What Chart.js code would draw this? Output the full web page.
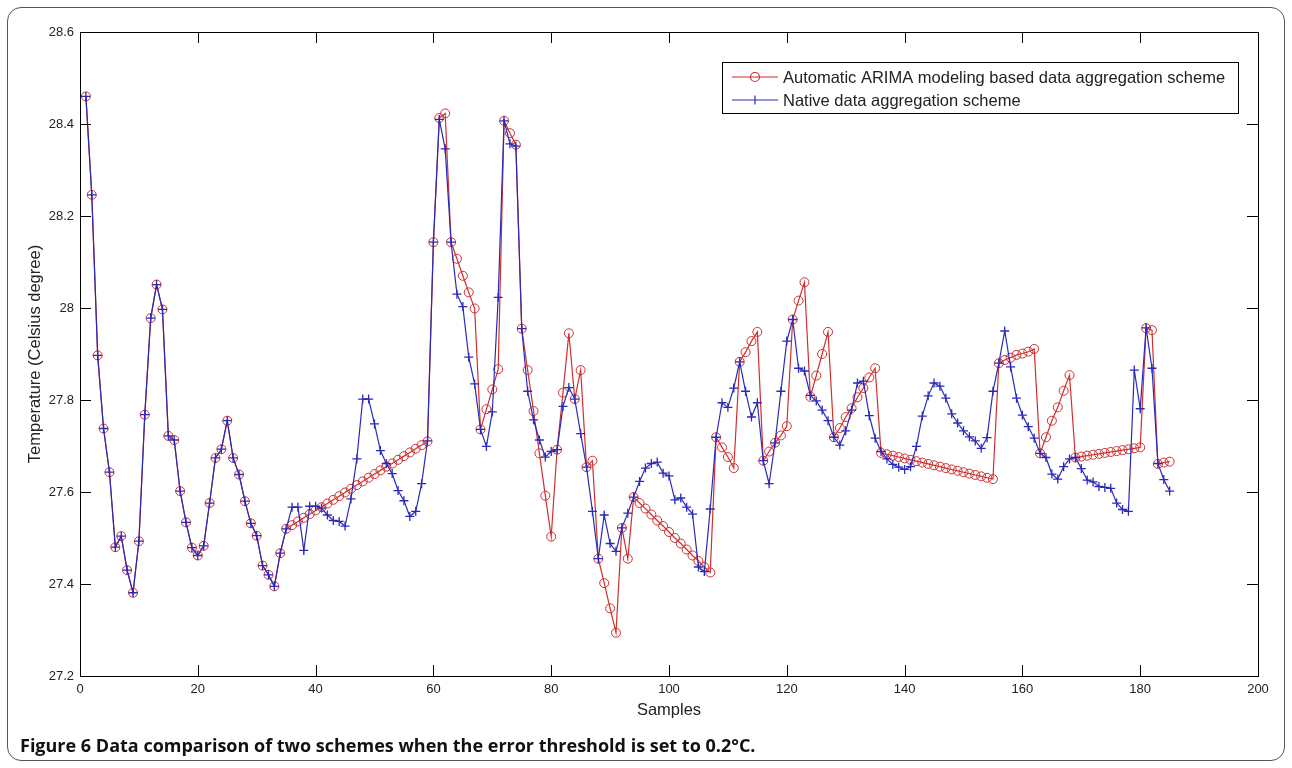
<!DOCTYPE html>
<html>
<head>
<meta charset="utf-8">
<title>Figure 6</title>
<script src="https://cdn.jsdelivr.net/npm/chart.js@4.4.1/dist/chart.umd.min.js"></script>
<style>
  html, body { margin: 0; padding: 0; background: #fff; }
  #wrap { position: relative; width: 1292px; height: 768px; overflow: hidden; }
  #frame {
    position: absolute; left: 7px; top: 7px; width: 1276px; height: 752px;
    border: 1px solid #555; border-radius: 14px;
  }
  #chart { position: absolute; left: 0; top: 0; }
  #caption {
    position: absolute; left: 20px; top: 733px;
    font: bold 18px "Open Sans", "Noto Sans", sans-serif; line-height: 24px; color: #111;
  }
</style>
</head>
<body>
<div id="wrap">
  <div id="frame"></div>
  <canvas id="chart" width="1292" height="768"></canvas>
  <div id="caption">Figure 6 Data comparison of two schemes when the error threshold is set to 0.2°C.</div>
</div>
<script>
// --- DATA ---
const samples = Array.from({ length: 185 }, (_, i) => i + 1);

const yTicks = [27.2, 27.4, 27.6, 27.8, 28, 28.2, 28.4, 28.6];
const xTicks = [0, 20, 40, 60, 80, 100, 120, 140, 160, 180, 200];

// samples 1..34 are identical for both schemes
const sharedStart = [
  28.460, 28.246, 27.897, 27.738, 27.643, 27.480, 27.504, 27.430, 27.381, 27.493,
  27.768, 27.978, 28.051, 27.997, 27.722, 27.713, 27.602, 27.534, 27.479, 27.462,
  27.483, 27.576, 27.674, 27.693, 27.755, 27.674, 27.638, 27.580, 27.532, 27.505,
  27.440, 27.420, 27.395, 27.467
];

// Automatic ARIMA modeling based scheme, samples 35..185
const arimaRest = [
  27.520, 27.528, 27.536, 27.544, 27.552, 27.560, 27.567, 27.575, 27.583, 27.591,
  27.599, 27.607, 27.615, 27.623, 27.631, 27.639, 27.647, 27.655, 27.662, 27.670,
  27.678, 27.686, 27.694, 27.702, 27.710,
  28.143, 28.413, 28.423, 28.143, 28.107, 28.070, 28.034, 27.999, 27.736, 27.780,
  27.823, 27.867, 28.407, 28.380, 28.355, 27.955,
  27.865, 27.776, 27.684, 27.592, 27.503, 27.692, 27.816, 27.945, 27.802, 27.865,
  27.654, 27.668, 27.455, 27.402, 27.347, 27.294, 27.522, 27.455, 27.589,
  27.576, 27.564, 27.551, 27.538, 27.526, 27.513, 27.500, 27.488, 27.475, 27.462,
  27.450, 27.437, 27.425,
  27.719, 27.697, 27.676, 27.652, 27.883, 27.904, 27.928, 27.948, 27.668, 27.688,
  27.707, 27.723, 27.743, 27.975, 28.016, 28.056, 27.807, 27.853, 27.900, 27.948,
  27.719, 27.739, 27.763, 27.782, 27.806, 27.826, 27.849, 27.869,
  27.685, 27.682, 27.679, 27.676, 27.673, 27.670, 27.667, 27.664, 27.661, 27.658,
  27.655, 27.652, 27.649, 27.646, 27.643, 27.640, 27.637, 27.634, 27.631, 27.628,
  27.880, 27.887, 27.892, 27.898, 27.901, 27.905, 27.911,
  27.684, 27.719, 27.755, 27.784, 27.820, 27.854,
  27.675, 27.677, 27.679, 27.681, 27.683, 27.685, 27.687, 27.689, 27.691, 27.693,
  27.695, 27.697,
  27.956, 27.952, 27.661, 27.664, 27.666
];

// Native data aggregation scheme, samples 35..185
const nativeRest = [
  27.520, 27.567, 27.567, 27.473, 27.569, 27.569, 27.565, 27.550, 27.538, 27.536,
  27.526, 27.585, 27.672, 27.802, 27.802, 27.748, 27.690, 27.662, 27.640, 27.603,
  27.581, 27.547, 27.558, 27.618, 27.711,
  28.143, 28.410, 28.346, 28.143, 28.030, 28.003, 27.893, 27.835, 27.736, 27.699,
  27.774, 28.023, 28.407, 28.357, 28.352, 27.955,
  27.819, 27.757, 27.713, 27.676, 27.688, 27.692, 27.786, 27.827, 27.802, 27.727,
  27.654, 27.558, 27.455, 27.550, 27.488, 27.471, 27.522, 27.554, 27.589, 27.623,
  27.652, 27.662, 27.665,
  27.641, 27.635, 27.583, 27.587, 27.567, 27.552, 27.437, 27.427, 27.563,
  27.719, 27.794, 27.784, 27.826, 27.883, 27.819, 27.763, 27.794, 27.668, 27.618,
  27.707, 27.819, 27.928, 27.975, 27.869, 27.863, 27.810, 27.798, 27.778, 27.755,
  27.719, 27.702, 27.733, 27.778, 27.837,
  27.841, 27.766, 27.717, 27.688, 27.672, 27.660, 27.654, 27.649, 27.655, 27.699,
  27.765, 27.809, 27.837, 27.830, 27.804, 27.770, 27.750, 27.733, 27.720, 27.711,
  27.695, 27.718, 27.819, 27.880, 27.950,
  27.872, 27.804, 27.767, 27.742, 27.717, 27.684, 27.675, 27.639, 27.628, 27.655,
  27.672, 27.675,
  27.651, 27.626, 27.622, 27.612, 27.610, 27.608, 27.576, 27.562, 27.558, 27.865,
  27.781, 27.957, 27.869, 27.662, 27.627, 27.602
];

const arimaScheme = sharedStart.concat(arimaRest);
const nativeScheme = sharedStart.concat(nativeRest);

const RED = '#cf2f2f';
const BLUE = '#2a2ab8';
const TICK_LEN = 11;
const FONT = '"Liberation Sans", Arial, sans-serif';

// --- PLUGINS ---
// MATLAB style box with inward ticks on all four sides
const axesBox = {
  id: 'axesBox',
  afterDraw(chart) {
    const { ctx, chartArea: a, scales: { x, y } } = chart;
    ctx.save();
    ctx.strokeStyle = '#000';
    ctx.lineWidth = 1;
    ctx.strokeRect(Math.round(a.left) + 0.5, Math.round(a.top) + 0.5,
      Math.round(a.right - a.left), Math.round(a.bottom - a.top));
    ctx.beginPath();
    xTicks.forEach(v => {
      const px = Math.round(x.getPixelForValue(v)) + 0.5;
      ctx.moveTo(px, a.bottom); ctx.lineTo(px, a.bottom - TICK_LEN);
      ctx.moveTo(px, a.top); ctx.lineTo(px, a.top + TICK_LEN);
    });
    yTicks.forEach(v => {
      const py = Math.round(y.getPixelForValue(v)) + 0.5;
      ctx.moveTo(a.left, py); ctx.lineTo(a.left + TICK_LEN, py);
      ctx.moveTo(a.right, py); ctx.lineTo(a.right - TICK_LEN, py);
    });
    ctx.stroke();
    ctx.restore();
  }
};

// legend box like the original figure
const boxLegend = {
  id: 'boxLegend',
  afterDraw(chart) {
    const { ctx } = chart;
    const box = { left: 722, top: 62, width: 516, height: 51 };
    ctx.save();
    ctx.fillStyle = '#fff';
    ctx.fillRect(box.left, box.top, box.width, box.height);
    ctx.strokeStyle = '#000';
    ctx.lineWidth = 1;
    ctx.strokeRect(box.left + 0.5, box.top + 0.5, box.width, box.height);

    const rows = [
      { text: chart.data.datasets[0].label, color: RED, marker: 'circle', y: 77 },
      { text: chart.data.datasets[1].label, color: BLUE, marker: 'cross', y: 100 }
    ];
    ctx.font = '16.5px ' + FONT;
    ctx.textBaseline = 'middle';
    rows.forEach(r => {
      ctx.strokeStyle = r.color;
      ctx.lineWidth = 1.2;
      ctx.beginPath();
      ctx.moveTo(732, r.y); ctx.lineTo(778, r.y);
      ctx.stroke();
      ctx.beginPath();
      if (r.marker === 'circle') {
        ctx.arc(755, r.y, 4.5, 0, Math.PI * 2);
      } else {
        ctx.moveTo(755, r.y - 4.5); ctx.lineTo(755, r.y + 4.5);
      }
      ctx.stroke();
      ctx.fillStyle = '#222';
      ctx.fillText(r.text, 783, r.y + 1);
    });
    ctx.restore();
  }
};

// --- CHART ---
const ctx = document.getElementById('chart').getContext('2d');
const chart = new Chart(ctx, {
  type: 'line',
  data: {
    labels: samples,
    datasets: [
      {
        label: 'Automatic ARIMA modeling based data aggregation scheme',
        data: arimaScheme,
        borderColor: RED,
        borderWidth: 1.2,
        pointStyle: 'circle',
        pointRadius: 4.5,
        pointBorderColor: RED,
        pointBackgroundColor: 'rgba(0,0,0,0)',
        pointBorderWidth: 1,
        tension: 0,
        order: 1
      },
      {
        label: 'Native data aggregation scheme',
        data: nativeScheme,
        borderColor: BLUE,
        borderWidth: 1.2,
        pointStyle: 'cross',
        pointRadius: 4.5,
        pointBorderColor: BLUE,
        pointBorderWidth: 1.3,
        tension: 0,
        order: 0
      }
    ]
  },
  options: {
    responsive: false,
    animation: false,
    events: [],
    layout: { padding: { top: 32, right: 34, left: 0, bottom: 0 } },
    plugins: {
      legend: { display: false },
      tooltip: { enabled: false }
    },
    scales: {
      x: {
        type: 'linear',
        min: 0,
        max: 200,
        afterBuildTicks: s => { s.ticks = xTicks.map(v => ({ value: v })); },
        afterFit: s => { s.height = 92; },
        grid: { display: false, drawTicks: false },
        border: { display: false },
        ticks: { padding: 6, color: '#222', font: { family: FONT, size: 13 }, maxRotation: 0 },
        title: {
          display: true, text: 'Samples', color: '#222',
          font: { family: FONT, size: 16.5 }, padding: { top: 0, bottom: 48 }
        }
      },
      y: {
        min: 27.2,
        max: 28.6,
        afterBuildTicks: s => { s.ticks = yTicks.map(v => ({ value: v })); },
        afterFit: s => { s.width = 80; },
        grid: { display: false, drawTicks: false },
        border: { display: false },
        ticks: {
          padding: 6, color: '#222', font: { family: FONT, size: 13 },
          callback: v => String(Number(v.toFixed(1)))
        },
        title: {
          display: true, text: 'Temperature (Celsius degree)', color: '#222',
          font: { family: FONT, size: 16.5 }, padding: { top: 26, bottom: 0 }
        }
      }
    }
  },
  plugins: [axesBox, boxLegend]
});
</script>
</body>
</html>
